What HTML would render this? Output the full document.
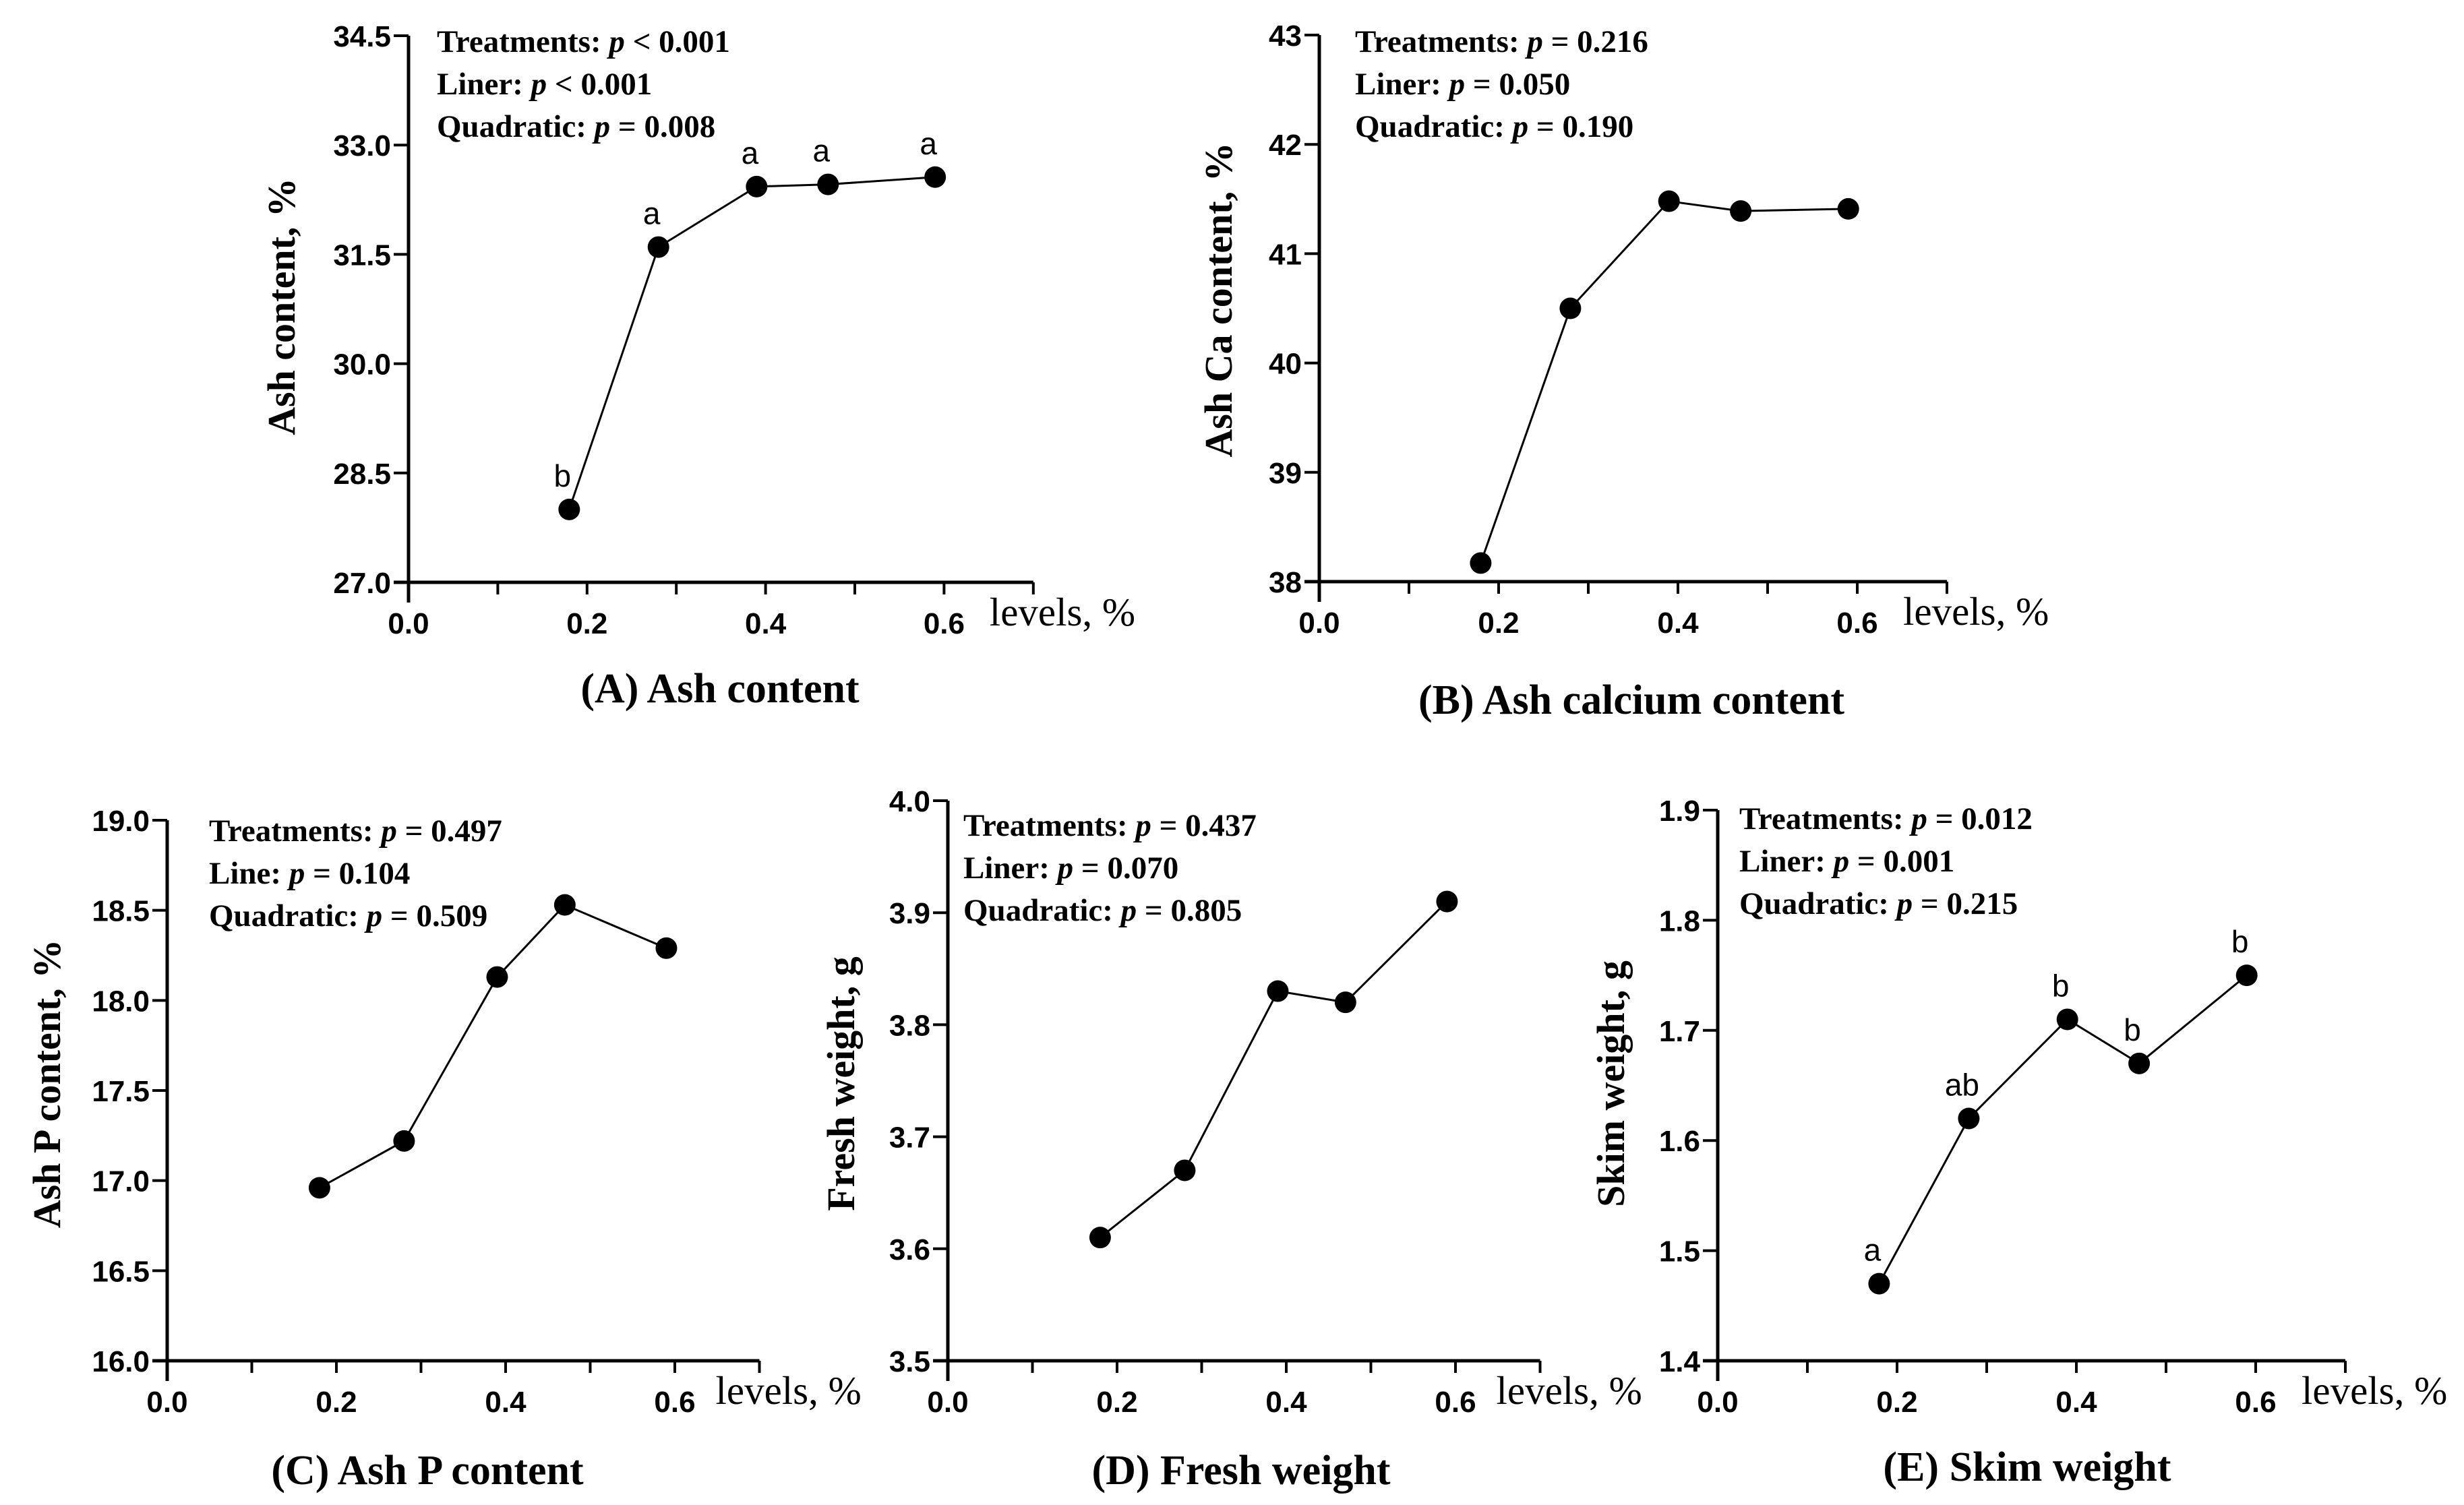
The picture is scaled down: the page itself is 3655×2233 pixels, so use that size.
<!DOCTYPE html>
<html><head><meta charset="utf-8"><style>
html,body{margin:0;padding:0;background:#fff;}
svg{display:block;}
.tick{font-family:"Liberation Sans",sans-serif;font-weight:bold;font-size:44px;fill:#000;}
.ann{font-family:"Liberation Serif",serif;font-weight:bold;font-size:47px;fill:#000;}
.ytitle{font-family:"Liberation Serif",serif;font-weight:bold;font-size:58px;fill:#000;}
.xtitle{font-family:"Liberation Serif",serif;font-size:59px;fill:#000;}
.sub{font-family:"Liberation Serif",serif;font-weight:bold;font-size:62px;fill:#000;}
.let{font-family:"Liberation Sans",sans-serif;font-size:46px;fill:#000;}
</style></head><body>
<svg id="fig" width="3655" height="2233" viewBox="0 0 3655 2233" xmlns="http://www.w3.org/2000/svg"></svg>
<script>
const levels = [0.18, 0.28, 0.39, 0.47, 0.59];
const xTicks = [0, 0.1, 0.2, 0.3, 0.4, 0.5, 0.6, 0.7];
const xTickLabels = ["0.0", "", "0.2", "", "0.4", "", "0.6", ""];
const ashValues = [28.0, 31.6, 32.43, 32.46, 32.56];
const ashLetters = ["b", "a", "a", "a", "a"];
const ashTicks = [27.0, 28.5, 30.0, 31.5, 33.0, 34.5];
const caValues = [38.17, 40.5, 41.48, 41.39, 41.41];
const caTicks = [38, 39, 40, 41, 42, 43];
const pValues = [16.96, 17.22, 18.13, 18.53, 18.29];
const pTicks = [16.0, 16.5, 17.0, 17.5, 18.0, 18.5, 19.0];
const freshValues = [3.61, 3.67, 3.83, 3.82, 3.91];
const freshTicks = [3.5, 3.6, 3.7, 3.8, 3.9, 4.0];
const skimValues = [1.47, 1.62, 1.71, 1.67, 1.75];
const skimLetters = ["a", "ab", "b", "b", "b"];
const skimTicks = [1.4, 1.5, 1.6, 1.7, 1.8, 1.9];

const NS = "http://www.w3.org/2000/svg";
const fig = document.getElementById("fig");
function mk(parent, tag, attrs, text){
  const e = document.createElementNS(NS, tag);
  for (const k in attrs) e.setAttribute(k, attrs[k]);
  if (text !== undefined) e.textContent = text;
  parent.appendChild(e);
  return e;
}

function panel(cfg){
  const g = mk(fig, "g", {});
  
  
  const xs = v => cfg.x0 + (v / 0.1) * cfg.dx;
  const ys = v => cfg.yB + (v - cfg.ymin) / (cfg.ymax - cfg.ymin) * (cfg.yT - cfg.yB);
  const ax = mk(g, "g", {});
  
  
  mk(ax, "line", {x1: cfg.x0 - 22, y1: cfg.yB, x2: xs(0.7), y2: cfg.yB, stroke: "#000", "stroke-width": 5});
  xTicks.forEach((t, i) => {
    mk(ax, "line", {x1: xs(t), y1: cfg.yB, x2: xs(t), y2: cfg.yB + 18, stroke: "#000", "stroke-width": 4});
    if (xTickLabels[i]) {
      const tl = mk(ax, "text", {x: xs(t), y: cfg.yB + 76, "text-anchor": "middle", class: "tick"}, xTickLabels[i]);
      
      
    }
  });
  const ay = mk(g, "g", {});
  
  
  mk(ay, "line", {x1: cfg.x0, y1: cfg.yT, x2: cfg.x0, y2: cfg.yB + 30, stroke: "#000", "stroke-width": 5});
  cfg.ticks.forEach(t => {
    mk(ay, "line", {x1: cfg.x0 - 22, y1: ys(t), x2: cfg.x0, y2: ys(t), stroke: "#000", "stroke-width": 4});
    const tl = mk(ay, "text", {x: cfg.x0 - 26, y: ys(t) + 16, "text-anchor": "end", class: "tick"}, t.toFixed(cfg.dec));
    
    
  });
  const yt = mk(g, "text", {x: cfg.ytX, y: cfg.ytY, "text-anchor": "middle", class: "ytitle", transform: `rotate(-90 ${cfg.ytX} ${cfg.ytY})`}, cfg.ytitle);
  
  
  const xt = mk(g, "text", {x: xs(0.7) - 65, y: cfg.yB + 64, class: "xtitle"}, "levels, %");
  
  
  const st = mk(g, "text", {x: cfg.subX, y: cfg.subY, "text-anchor": "middle", class: "sub"}, cfg.sub);
  
  
  const an = mk(g, "g", {});
  
  
  cfg.ann.forEach((a, i) => {
    const t = mk(an, "text", {x: cfg.annX, y: cfg.annY + i * 63, class: "ann"});
    mk(t, "tspan", {}, a[0] + ": ");
    mk(t, "tspan", {"font-style": "italic"}, "p");
    mk(t, "tspan", {}, " " + a[1]);
  });
  const pts = levels.map((l, i) => xs(l) + "," + ys(cfg.vals[i])).join(" ");
  const pl = mk(g, "polyline", {points: pts, fill: "none", stroke: "#000", "stroke-width": 3});
  
  
  levels.forEach((l, i) => {
    const c = mk(g, "circle", {cx: xs(l), cy: ys(cfg.vals[i]), r: 16, fill: "#000"});
    
    
    if (cfg.letters) {
      const lt = mk(g, "text", {x: xs(l) - 10, y: ys(cfg.vals[i]) - 34, "text-anchor": "middle", class: "let"}, cfg.letters[i]);
      
      
    }
  });
}

panel({name: "panel-a-ash-content", x0: 606, dx: 132.4, yT: 53, yB: 864, ymin: 27, ymax: 34.5, ticks: ashTicks, dec: 1, vals: ashValues, letters: ashLetters,
  ytitle: "Ash content, %", ytX: 437, ytY: 455, sub: "(A) Ash content", subX: 1068, subY: 1042, annX: 648, annY: 77,
  ann: [["Treatments", "< 0.001"], ["Liner", "< 0.001"], ["Quadratic", "= 0.008"]]});
panel({name: "panel-b-ash-calcium", x0: 1957, dx: 133, yT: 52, yB: 863, ymin: 38, ymax: 43, ticks: caTicks, dec: 0, vals: caValues,
  ytitle: "Ash Ca content, %", ytX: 1827, ytY: 445, sub: "(B) Ash calcium content", subX: 2420, subY: 1059, annX: 2010, annY: 77,
  ann: [["Treatments", "= 0.216"], ["Liner", "= 0.050"], ["Quadratic", "= 0.190"]]});
panel({name: "panel-c-ash-p", x0: 248, dx: 125.5, yT: 1217, yB: 2019, ymin: 16, ymax: 19, ticks: pTicks, dec: 1, vals: pValues,
  ytitle: "Ash P content, %", ytX: 89, ytY: 1608, sub: "(C) Ash P content", subX: 634, subY: 2202, annX: 310, annY: 1248,
  ann: [["Treatments", "= 0.497"], ["Line", "= 0.104"], ["Quadratic", "= 0.509"]]});
panel({name: "panel-d-fresh-weight", x0: 1406, dx: 125.5, yT: 1188, yB: 2019, ymin: 3.5, ymax: 4.0, ticks: freshTicks, dec: 1, vals: freshValues,
  ytitle: "Fresh weight, g", ytX: 1267, ytY: 1608, sub: "(D) Fresh weight", subX: 1841, subY: 2202, annX: 1429, annY: 1240,
  ann: [["Treatments", "= 0.437"], ["Liner", "= 0.070"], ["Quadratic", "= 0.805"]]});
panel({name: "panel-e-skim-weight", x0: 2548, dx: 133, yT: 1202, yB: 2019, ymin: 1.4, ymax: 1.9, ticks: skimTicks, dec: 1, vals: skimValues, letters: skimLetters,
  ytitle: "Skim weight, g", ytX: 2409, ytY: 1608, sub: "(E) Skim weight", subX: 3007, subY: 2197, annX: 2580, annY: 1230,
  ann: [["Treatments", "= 0.012"], ["Liner", "= 0.001"], ["Quadratic", "= 0.215"]]});
</script>
</body></html>
